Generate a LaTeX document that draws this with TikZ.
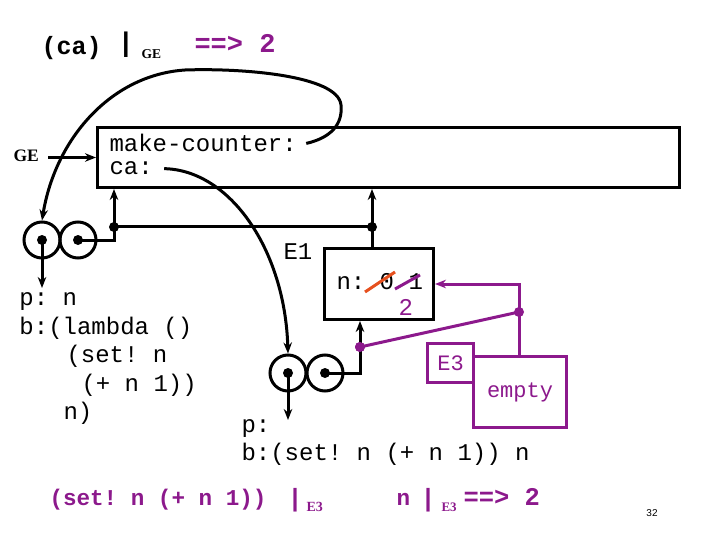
\documentclass[tikz,border=0pt]{standalone}
\usepackage{fontspec}
\setmainfont{Liberation Serif}
\setmonofont{Liberation Mono}
\newfontfamily\sansf{Liberation Sans}
\usetikzlibrary{arrows.meta}
\definecolor{purp}{RGB}{140,25,140}
\definecolor{strk}{RGB}{230,80,30}
\begin{document}
\begin{tikzpicture}[x=1pt,y=-1pt, line width=3pt,
 arr/.style={-{Stealth[length=11pt,width=8.5pt]}},
 code/.style={font={\ttfamily\fontsize{24}{28}\selectfont}, anchor=base west, inner sep=0pt},
 bcode/.style={font={\ttfamily\bfseries\fontsize{#1}{28}\selectfont}, anchor=base west, inner sep=0pt},
 subsc/.style={font={\rmfamily\bfseries\fontsize{#1}{18}\selectfont}, anchor=base west, inner sep=0pt},
 bar/.style={font={\sansf\bfseries\fontsize{#1}{30}\selectfont}, anchor=base west, inner sep=0pt},
 dot/.style={circle, fill, inner sep=0pt, minimum size=10pt},
 cell/.style={circle, draw, minimum size=36pt, inner sep=0pt},
 frame/.style={draw, inner sep=0pt, anchor=north west}]
\useasboundingbox (0,0) rectangle (720,540);

% top line
\node[bcode=25] (topca) at (40,55) {(ca)};
\node[bar=27] (topbar) at (120.5,52) {|};
\node[subsc=13.5] (topge) at (140,59) {GE};
\node[bcode=27, text=purp] (topres) at (193,53) {==> 2};

% global environment
\node[frame, minimum width=582pt, minimum height=60pt] (ge) at (96,126) {};
\node[subsc=17.5] (gel) at (12,162) {GE};
\path (gel.east |- ge.west) ++(8,0) coordinate (gs);
\draw[arr] (gs) -- (ge.west);
\node[code] (mk) at (108,152) {make-counter:};
\node[code] (ca) at (108,175) {ca:};

% first procedure object
\node[cell] (c1l) at (42,240) {};
\node[cell] (c1r) at (78,240) {};
\node[dot] (d1l) at (42,240) {};
\node[dot] (d1r) at (78,240) {};
\node[dot] (j1) at (114,227) {};
\node[dot] (j2) at (372,227) {};
\coordinate (p1) at (42,288);
\draw[arr] (d1l.center) -- (p1);
\draw (d1r.center) -| (j1.center);
\draw[arr] (j1.center) -- (j1 |- ge.south);
\draw (j1.center) -- (j2.center);
\draw[arr] (j2.center) -- (j2 |- ge.south);

\draw[arr] ([xshift=8pt]mk.east) .. controls (330,138) and (343,125) .. (341,105)
  .. controls (338,75) and (240,68) .. (185,70)
  .. controls (110,75) and (55,140) .. (c1l.north);

\node[code] (l1) at (18,305) {p: n};
\node[code] (l2) at (18,334) {b:(lambda ()};
\node[code] (l3) at (65,362) {(set! n};
\node[code] (l4) at (80,391) {(+ n 1))};
\node[code] (l5) at (62,419) {n)};

% E1
\node[frame, minimum width=109pt, minimum height=71pt] (e1) at (323,247) {};
\draw (j2.center) -- (j2 |- e1.north);
\node[code] (e1l) at (282,259) {E1};
\node[code] (nv) at (335,289) {n: 0 1};
\draw[strk] (365,292) -- (395,272);
\draw[purp] (395,289) -- (420,275);
\node[code, text=purp] (two) at (397,315) {2};

% second procedure object
\node[cell] (c2l) at (288,373) {};
\node[cell] (c2r) at (325,373) {};
\node[dot] (d2l) at (288,373) {};
\node[dot] (d2r) at (325,373) {};
\coordinate (p2) at (288,420);
\draw[arr] (d2l.center) -- (p2);
\node[dot, purp] (j3) at (360,347) {};
\draw[arr] (d2r.center) -| (j3 |- e1.south);
\node[dot, purp] at (j3.center) {};

\draw[arr] ([xshift=10pt]ca.east) .. controls (230,170) and (285,250) .. (c2l.north);

\node[code] (q1) at (240,432) {p:};
\node[code] (q2) at (240,460) {b:(set! n (+ n 1)) n};

% E3
\node[frame, draw=purp, text=purp, minimum width=46pt, minimum height=39pt,
      font={\ttfamily\fontsize{22}{26}\selectfont}] (e3) at (426,342) {E3};
\node[frame, draw=purp, text=purp, minimum width=93pt, minimum height=71pt,
      font={\ttfamily\fontsize{22}{26}\selectfont}] (emp) at (472,355) {empty};
\node[dot, purp] (j4) at (519,312) {};
\draw[purp, arr] (emp.north -| j4) |- (e1.east);
\draw[purp] (j4.center) -- (j3.center);

% bottom line
\node[bcode=22.6, text=purp] (b1) at (48,505) {(set! n (+ n 1))};
\node[bar=25, text=purp] (b2) at (290,506) {|};
\node[subsc=14, text=purp] (b3) at (305,511) {E3};
\node[bcode=22.6, text=purp] (b4) at (395,505) {n};
\node[bar=25, text=purp] (b5) at (423,506) {|};
\node[subsc=13, text=purp] (b6) at (440,511) {E3};
\node[bcode=25.5, text=purp] (b7) at (462,505) {==> 2};

\node[font={\sansf\fontsize{10}{12}\selectfont}, inner sep=0pt] (pg) at (652,513) {32};
\end{tikzpicture}
\end{document}
